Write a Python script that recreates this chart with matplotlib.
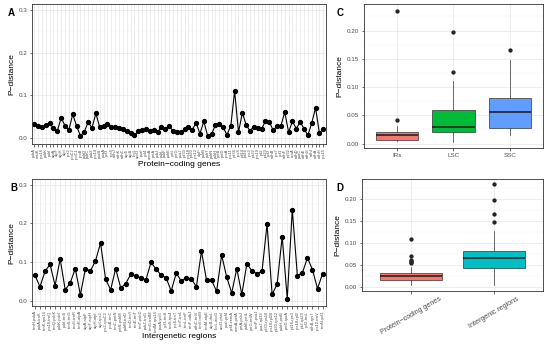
import numpy as np
import matplotlib.pyplot as plt
from matplotlib.ticker import MultipleLocator, FormatStrFormatter

plt.rcParams['font.family'] = ['Liberation Sans', 'DejaVu Sans']

# panel A: p-distance of protein-coding genes
gene_names = ['psbA', 'matK', 'rps16', 'psbK', 'psbI', 'atpA', 'atpF', 'atpH', 'atpI', 'rps2',
              'rpoC2', 'rpoC1', 'rpoB', 'psbD', 'psbC', 'psbZ', 'rps14', 'psaB', 'psaA', 'ycf3',
              'rps4', 'ndhJ', 'ndhK', 'ndhC', 'atpE', 'atpB', 'rbcL', 'accD', 'psaI', 'ycf4',
              'cemA', 'petA', 'psbJ', 'psbL', 'psbF', 'psbE', 'petL', 'petG', 'psaJ', 'rpl33',
              'rps18', 'rpl20', 'rps12', 'clpP', 'psbB', 'psbT', 'psbN', 'psbH', 'petB', 'petD',
              'rpoA', 'rps11', 'rpl36', 'rps8', 'rpl14', 'rpl16', 'rps3', 'rpl22', 'rps19', 'rpl2',
              'rpl23', 'ycf2', 'ndhB', 'rps7', 'ycf1', 'ndhF', 'rpl32', 'ccsA', 'ndhD', 'psaC',
              'ndhE', 'ndhG', 'ndhI', 'ndhA', 'ndhH', 'rps15']
gene_pdist = [0.032, 0.028, 0.024, 0.030, 0.034, 0.022, 0.016, 0.046, 0.028, 0.018,
              0.055, 0.027, 0.004, 0.014, 0.036, 0.023, 0.057, 0.024, 0.027, 0.033,
              0.026, 0.025, 0.023, 0.019, 0.015, 0.010, 0.005, 0.015, 0.018, 0.020,
              0.016, 0.018, 0.013, 0.024, 0.020, 0.028, 0.015, 0.012, 0.012, 0.019,
              0.024, 0.018, 0.035, 0.009, 0.038, 0.004, 0.008, 0.029, 0.031, 0.024,
              0.007, 0.027, 0.110, 0.012, 0.059, 0.029, 0.016, 0.026, 0.022, 0.021,
              0.038, 0.037, 0.017, 0.027, 0.027, 0.060, 0.013, 0.038, 0.021, 0.037,
              0.021, 0.005, 0.034, 0.070, 0.010, 0.021]

# panel B: p-distance of intergenic regions
igs_names = ['trnH-psbA', 'psbA-trnK', 'trnK-rps16', 'rps16-trnQ', 'trnQ-psbK', 'psbK-psbI',
             'psbI-trnS', 'trnS-trnG', 'trnG-trnR', 'trnR-atpA', 'atpA-atpF', 'atpF-atpH',
             'atpH-atpI', 'atpI-rps2', 'rps2-rpoC2', 'rpoB-trnC', 'trnC-petN', 'petN-psbM',
             'psbM-trnD', 'trnD-trnY', 'trnE-trnT', 'trnT-psbD', 'psbZ-trnG', 'trnG-trnfM',
             'trnfM-rps14', 'psaA-ycf3', 'ycf3-trnS', 'trnS-rps4', 'rps4-trnT', 'trnT-trnL',
             'trnL-trnF', 'trnF-ndhJ', 'ndhC-trnV', 'trnV-trnM', 'trnM-atpE', 'atpB-rbcL',
             'rbcL-accD', 'accD-psaI', 'psaI-ycf4', 'ycf4-cemA', 'cemA-petA', 'petA-psbJ',
             'psbE-petL', 'petG-trnW', 'trnP-psaJ', 'psaJ-rpl33', 'rpl33-rps18', 'rps18-rpl20',
             'rpl20-rps12', 'psbH-petB', 'petD-rpoA', 'rpl16-rps3', 'rps19-rpl2', 'rpl2-rpl23',
             'ycf2-trnL', 'ndhB-rps7', 'rps12-trnV', 'trnN-ycf1']
igs_pdist = [0.066, 0.036, 0.076, 0.094, 0.039, 0.108, 0.028, 0.046, 0.083, 0.015,
             0.082, 0.077, 0.103, 0.149, 0.056, 0.028, 0.083, 0.033, 0.044, 0.069,
             0.064, 0.059, 0.054, 0.099, 0.082, 0.066, 0.059, 0.025, 0.071, 0.051,
             0.059, 0.056, 0.036, 0.128, 0.053, 0.053, 0.024, 0.118, 0.061, 0.020,
             0.083, 0.016, 0.096, 0.077, 0.070, 0.076, 0.198, 0.016, 0.043, 0.166,
             0.005, 0.236, 0.065, 0.072, 0.111, 0.080, 0.031, 0.070]

# panel C: box stats by region
region_names = ['IRs', 'LSC', 'SSC']
region_q1 = [0.006, 0.020, 0.027]
region_med = [0.016, 0.030, 0.056]
region_q3 = [0.020, 0.060, 0.080]
region_lo = [0.004, 0.003, 0.016]
region_hi = [0.031, 0.110, 0.148]
region_out = [[0.042, 0.235], [0.127, 0.197], [0.165]]
region_colors = ['#F8766D', '#00BA38', '#619CFF']

# panel D
type_names = ['Protein\u2212coding genes', 'Intergenic regions']
type_colors = ['#F8766D', '#00BFC4']

edge = '#333333'
tick_txt = '#4d4d4d'


def style(ax):
    for s in ax.spines.values():
        s.set_color(edge)
        s.set_linewidth(0.6)
    ax.tick_params(colors=edge, labelcolor=tick_txt, length=1.8, width=0.5,
                   labelsize=4.5, pad=1.5)
    ax.grid(True, which='major', color='#e6e6e6', lw=0.5)
    ax.grid(True, which='minor', axis='y', color='#f2f2f2', lw=0.3)
    ax.tick_params(which='minor', length=0)
    ax.set_axisbelow(True)


fig = plt.figure(figsize=(5.5, 3.51), dpi=100)

axA = fig.add_axes([0.058, 0.590, 0.534, 0.399])
axB = fig.add_axes([0.058, 0.127, 0.534, 0.363])
axC = fig.add_axes([0.661, 0.578, 0.327, 0.410])
axD = fig.add_axes([0.658, 0.172, 0.330, 0.318])

for ax, names, vals, xl in [(axA, gene_names, gene_pdist, 'Protein\u2212coding genes'),
                            (axB, igs_names, igs_pdist, 'Intergenetic regions')]:
    style(ax)
    x = np.arange(len(vals))
    ax.plot(x, vals, '-o', color='black', lw=0.8, ms=2.8)
    ax.set_xticks(x)
    ax.set_xticklabels(names, rotation=90, fontsize=2.9)
    ax.set_xlim(-0.6, len(vals) - 0.4)
    ax.set_ylim(-0.015, 0.315)
    ax.yaxis.set_major_locator(MultipleLocator(0.1))
    ax.yaxis.set_minor_locator(MultipleLocator(0.05))
    ax.yaxis.set_major_formatter(FormatStrFormatter('%.1f'))
    ax.set_xlabel(xl, fontsize=6, labelpad=1)
    ax.set_ylabel('P\u2212distance', fontsize=6, labelpad=2.5)

# C
style(axC)
stats = []
for i in range(len(region_names)):
    stats.append(dict(med=region_med[i], q1=region_q1[i], q3=region_q3[i],
                      whislo=region_lo[i], whishi=region_hi[i], fliers=region_out[i]))
box_kw = dict(widths=0.75, patch_artist=True, showcaps=False,
              boxprops=dict(edgecolor=edge, lw=0.5),
              medianprops=dict(color='#1a1a1a', lw=1.1),
              whiskerprops=dict(color=edge, lw=0.5),
              flierprops=dict(marker='o', mfc='#262626', mec='none', ms=3.1))
bp = axC.bxp(stats, positions=[1, 2, 3], **box_kw)
for patch, c in zip(bp['boxes'], region_colors):
    patch.set_facecolor(c)
axC.set_xticks([1, 2, 3])
axC.set_xticklabels(region_names)
axC.set_xlim(0.4, 3.6)
axC.set_ylim(-0.008, 0.2465)
axC.yaxis.set_major_locator(MultipleLocator(0.05))
axC.yaxis.set_minor_locator(MultipleLocator(0.025))
axC.yaxis.set_major_formatter(FormatStrFormatter('%.2f'))
axC.set_ylabel('P\u2212distance', fontsize=6, labelpad=2.5)

# D
style(axD)
bp = axD.boxplot([gene_pdist, igs_pdist], positions=[1, 2], **box_kw)
for patch, c in zip(bp['boxes'], type_colors):
    patch.set_facecolor(c)
axD.set_xticks([1, 2])
axD.set_xticklabels(type_names, rotation=30, ha='center', va='top', fontsize=5.1)
axD.set_xlim(0.4, 2.6)
axD.set_ylim(-0.009, 0.2466)
axD.yaxis.set_major_locator(MultipleLocator(0.05))
axD.yaxis.set_minor_locator(MultipleLocator(0.025))
axD.yaxis.set_major_formatter(FormatStrFormatter('%.2f'))
axD.set_ylabel('P\u2212distance', fontsize=6, labelpad=2.5)

for lab, x, y in [('A', 0.014, 0.963), ('B', 0.018, 0.463), ('C', 0.612, 0.963), ('D', 0.612, 0.463)]:
    fig.text(x, y, lab, fontsize=7, fontweight='bold', va='center')

fig.savefig('out.png', dpi=100)
